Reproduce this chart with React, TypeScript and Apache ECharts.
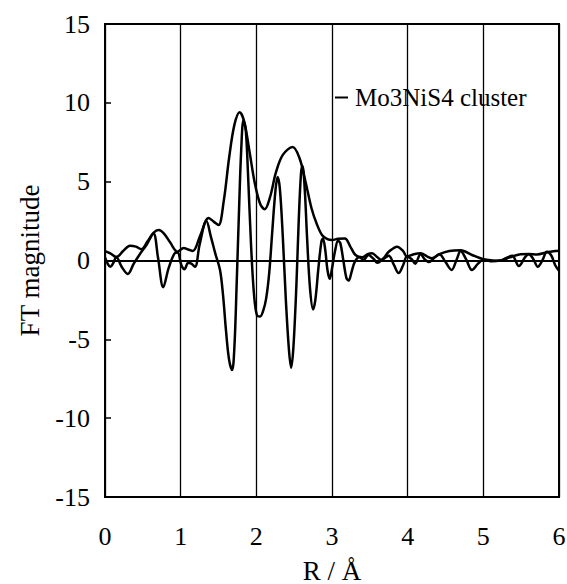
import React, { useEffect, useRef } from "react";
import * as echarts from "echarts";

const xTicks = [0, 1, 2, 3, 4, 5, 6];
const yTicks = [-15, -10, -5, 0, 5, 10, 15];

const envR = [0.00, 0.07, 0.15, 0.24, 0.33, 0.41, 0.48, 0.56, 0.64, 0.71, 0.78, 0.86, 0.96, 1.04, 1.10, 1.16, 1.26, 1.37, 1.44, 1.50, 1.57, 1.64, 1.71, 1.78, 1.84, 1.91, 1.98, 2.05, 2.11, 2.18, 2.26, 2.35, 2.48, 2.57, 2.65, 2.73, 2.80, 2.87, 2.94, 3.00, 3.08, 3.17, 3.24, 3.31, 3.40, 3.47, 3.53, 3.60, 3.65, 3.75, 3.86, 3.94, 3.99, 4.08, 4.17, 4.26, 4.32, 4.42, 4.55, 4.70, 4.85, 5.00, 5.12, 5.22, 5.35, 5.49, 5.60, 5.71, 5.84, 5.95, 6.00];
const envVal = [0.60, 0.45, 0.22, 0.60, 0.94, 0.88, 0.72, 1.20, 1.75, 1.93, 1.70, 1.15, 0.56, 0.80, 0.70, 0.60, 1.60, 2.70, 2.45, 2.25, 3.8, 6.5, 8.6, 9.4, 8.8, 6.9, 4.9, 3.6, 3.25, 4.0, 5.6, 6.7, 7.2, 6.5, 5.0, 3.3, 2.3, 1.6, 1.35, 1.3, 1.38, 1.40, 0.9, 0.35, 0.2, 0.4, 0.46, 0.2, 0.05, 0.55, 0.88, 0.6, 0.25, 0.4, 0.46, 0.25, 0.15, 0.4, 0.6, 0.65, 0.35, 0.08, 0.0, -0.02, 0.2, 0.4, 0.42, 0.38, 0.52, 0.6, 0.62];

const oscR = [0.00, 0.04, 0.07, 0.11, 0.15, 0.22, 0.30, 0.38, 0.46, 0.55, 0.64, 0.70, 0.77, 0.84, 0.92, 0.96, 1.01, 1.05, 1.10, 1.14, 1.19, 1.25, 1.34, 1.40, 1.46, 1.52, 1.56, 1.60, 1.64, 1.68, 1.71, 1.74, 1.77, 1.80, 1.83, 1.86, 1.89, 1.93, 1.97, 2.01, 2.05, 2.09, 2.13, 2.17, 2.21, 2.25, 2.28, 2.31, 2.35, 2.39, 2.43, 2.46, 2.49, 2.53, 2.56, 2.59, 2.61, 2.64, 2.67, 2.71, 2.75, 2.78, 2.82, 2.86, 2.88, 2.91, 2.94, 2.97, 3.00, 3.04, 3.08, 3.11, 3.15, 3.19, 3.22, 3.26, 3.30, 3.36, 3.42, 3.48, 3.55, 3.60, 3.68, 3.75, 3.82, 3.88, 3.94, 3.99, 4.05, 4.10, 4.17, 4.23, 4.28, 4.36, 4.42, 4.50, 4.58, 4.65, 4.70, 4.77, 4.85, 4.93, 5.00, 5.12, 5.22, 5.30, 5.38, 5.47, 5.55, 5.60, 5.66, 5.72, 5.78, 5.84, 5.90, 5.95, 6.00];
const oscVal = [0.20, -0.25, -0.40, -0.15, 0.22, -0.40, -0.85, -0.2, 0.4, 1.0, 1.72, 0.2, -1.7, -0.5, 0.45, 0.5, -0.3, -0.55, -0.15, -0.2, -0.4, 1.0, 2.5, 1.5, 0.4, -0.6, -2.2, -4.5, -6.3, -6.95, -5.5, -1.5, 3.0, 7.0, 8.9, 8.3, 5.5, 1.0, -2.2, -3.5, -3.55, -3.2, -2.4, -0.8, 1.8, 4.3, 5.3, 4.6, 1.5, -2.5, -5.6, -6.8, -5.5, -1.5, 2.5, 5.5, 6.0, 4.5, 1.5, -1.8, -3.1, -2.5, -0.5, 1.2, 1.4, 0.7, -0.6, -1.16, -0.5, 0.6, 1.25, 1.1, 0.0, -1.1, -1.27, -0.7, -0.1, 0.2, 0.05, 0.35, 0.1, -0.15, 0.1, 0.3, -0.3, -0.8, -0.3, 0.24, 0.1, -0.2, 0.4, 0.05, -0.1, 0.2, 0.4, -0.1, -0.6, 0.1, 0.6, 0.1, -0.6, -0.2, 0.05, -0.05, 0.0, 0.15, 0.3, -0.35, 0.2, 0.4, 0.1, -0.4, 0.0, 0.55, 0.3, -0.3, -0.65];

const seriesName = "Mo3NiS4 cluster";
const FONT = "'Liberation Serif', 'Times New Roman', serif";

export default function App() {
  const ref = useRef<HTMLDivElement>(null);
  useEffect(() => {
    if (!ref.current) return;
    const chart = echarts.init(ref.current, undefined, { renderer: "svg" });
    const envData = envR.map((r, i) => [r, envVal[i]]);
    const oscData = oscR.map((r, i) => [r, oscVal[i]]);
    chart.setOption({
      animation: false,
      backgroundColor: "#fff",
      textStyle: { fontFamily: FONT, color: "#000" },
      grid: {
        left: 105,
        right: 8,
        top: 24,
        bottom: 87,
        show: true,
        containLabel: false,
        outerBoundsMode: "none",
        borderColor: "#000",
        borderWidth: 2,
      },
      legend: {
        data: [{ name: seriesName, icon: "rect" }],
        left: 330,
        top: 80,
        itemWidth: 13,
        itemHeight: 2,
        textStyle: { fontFamily: FONT, fontSize: 25, color: "#000", padding: [0, 0, 0, 2] },
      },
      xAxis: {
        type: "value",
        min: xTicks[0],
        max: xTicks[xTicks.length - 1],
        interval: 1,
        name: "R / Å",
        nameLocation: "middle",
        nameGap: 60,
        nameTextStyle: { fontFamily: FONT, fontSize: 27, color: "#000" },
        axisLine: { show: true, lineStyle: { color: "#000", width: 2 } },
        axisTick: { show: false },
        axisLabel: { fontFamily: FONT, fontSize: 26, color: "#000", margin: 26 },
        splitLine: { show: true, lineStyle: { color: "#000", width: 1.3, type: "solid" } },
      },
      yAxis: {
        type: "value",
        min: yTicks[0],
        max: yTicks[yTicks.length - 1],
        interval: 5,
        name: "FT magnitude",
        nameLocation: "middle",
        nameRotate: 90,
        nameGap: 62,
        nameTextStyle: { fontFamily: FONT, fontSize: 27, color: "#000" },
        axisLine: { show: true, lineStyle: { color: "#000", width: 2 } },
        axisTick: { show: true, inside: true, length: 6, lineStyle: { color: "#000", width: 1.5 } },
        axisLabel: { fontFamily: FONT, fontSize: 26, color: "#000", margin: 15 },
        splitLine: { show: false },
      },
      series: [
        {
          name: seriesName,
          type: "line",
          data: envData,
          smooth: 0.35,
          symbol: "none",
          lineStyle: { color: "#000", width: 2.5 },
          itemStyle: { color: "#000" },
          markLine: {
            silent: true,
            symbol: "none",
            label: { show: false },
            lineStyle: { color: "#000", width: 0.8, type: [3, 3] },
            data: [{ yAxis: 0 }],
          },
        },
        {
          name: "imag",
          type: "line",
          data: oscData,
          smooth: 0.35,
          symbol: "none",
          lineStyle: { color: "#000", width: 2.5 },
          itemStyle: { color: "#000" },
        },
      ],
    });
    return () => chart.dispose();
  }, []);
  return (
    <div
      ref={ref}
      style={{ position: "fixed", left: 0, top: 0, width: 567, height: 584, background: "#fff" }}
    />
  );
}
